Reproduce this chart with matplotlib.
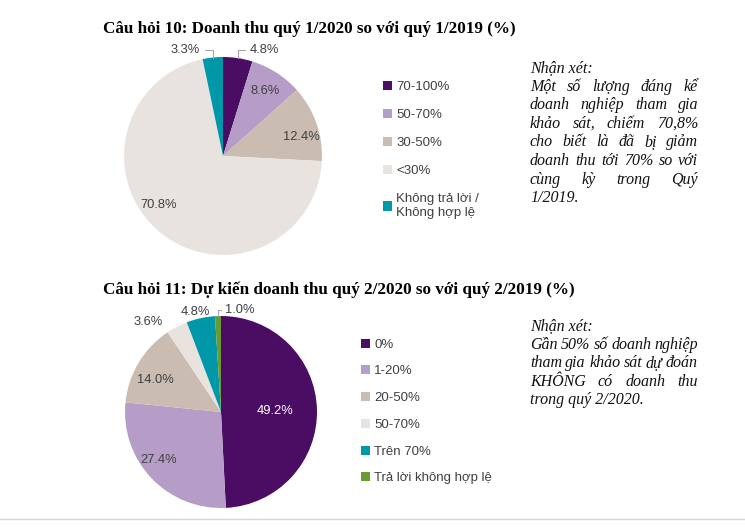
import matplotlib
matplotlib.use("Agg")
from matplotlib import pyplot as plt
from matplotlib.lines import Line2D
import numpy as np

# data
labels1 = ["70-100%", "50-70%", "30-50%", "<30%", "Không trả lời /\nKhông hợp lệ"]
values1 = [4.8, 8.6, 12.4, 70.8, 3.3]
colors1 = ["#4b0c63", "#b69dc7", "#cbbcb2", "#e9e3e0", "#0097a8"]

labels2 = ["0%", "1-20%", "20-50%", "50-70%", "Trên 70%", "Trả lời không hợp lệ"]
values2 = [49.2, 27.4, 14.0, 3.6, 4.8, 1.0]
colors2 = ["#4b0c63", "#b69dc7", "#cbbcb2", "#e9e3e0", "#0097a8", "#6b9a32"]

title1 = "Câu hỏi 10: Doanh thu quý 1/2020 so với quý 1/2019 (%)"
title2 = "Câu hỏi 11: Dự kiến doanh thu quý 2/2020 so với quý 2/2019 (%)"

note1 = ["Nhận xét:",
         "Một số lượng đáng kể",
         "doanh nghiệp tham gia",
         "khảo sát, chiếm 70,8%",
         "cho biết là đã bị giảm",
         "doanh thu tới 70% so với",
         "cùng kỳ trong Quý",
         "1/2019."]
note2 = ["Nhận xét:",
         "Gần 50% số doanh nghiệp",
         "tham gia khảo sát dự đoán",
         "KHÔNG có doanh thu",
         "trong quý 2/2020."]

W, H = 745, 532
TXT = "#404040"
plt.rcParams["font.family"] = ["Liberation Sans", "DejaVu Sans"]
fig = plt.figure(figsize=(W / 100, H / 100), dpi=100)


def fx(px):
    return px / W


def fy(py):
    return 1 - py / H


def pie_axes(cx, cy, r, lim=1.3):
    s = r * lim
    return fig.add_axes([fx(cx - s), fy(cy + s), 2 * s / W, 2 * s / H])


def draw_pie(ax, values, colors, inside, outside):
    wedges, _ = ax.pie(values, colors=colors, startangle=90, counterclock=False,
                       wedgeprops=dict(linewidth=0))
    ax.set_xlim(-1.3, 1.3)
    ax.set_ylim(-1.3, 1.3)
    ax.set_aspect("equal")
    ax.axis("off")
    for i, w in enumerate(wedges):
        mid = (w.theta1 + w.theta2) / 2
        lab = f"{values[i]:.1f}%"
        if i in inside:
            r, dth, col = inside[i]
            a = np.deg2rad(mid + dth)
            ax.text(r * np.cos(a), r * np.sin(a), lab, ha="center", va="center",
                    fontsize=9.3, color=col)
        else:
            tx, ty, leader = outside[i]
            if not leader:
                ax.text(tx, ty, lab, ha="center", va="center", fontsize=9.3, color=TXT)
                continue
            a = np.deg2rad(mid)
            ax.annotate(lab, xy=(np.cos(a), np.sin(a)), xytext=(tx, ty),
                        ha="center", va="center", fontsize=9.3, color=TXT,
                        arrowprops=dict(arrowstyle="-", color="#a6a6a6", lw=0.8,
                                        shrinkA=1.5, shrinkB=0,
                                        connectionstyle="angle,angleA=0,angleB=90,rad=0"))
    return wedges


def justified(lines, x0, x1, y0, dy, size):
    renderer = fig.canvas.get_renderer()
    kw = dict(fontsize=size, fontstyle="italic", family="Liberation Serif",
              color="#111111", va="baseline")
    for k, line in enumerate(lines):
        y = fy(y0 + k * dy)
        words = line.split(" ")
        if k == 0 or k == len(lines) - 1 or len(words) == 1:
            fig.text(fx(x0), y, line, ha="left", **kw)
            continue
        ts = [fig.text(0, y, wd, ha="left", **kw) for wd in words]
        widths = [t.get_window_extent(renderer).width for t in ts]
        gap = ((x1 - x0) - sum(widths)) / (len(words) - 1)
        x = x0
        for t, wdt in zip(ts, widths):
            t.set_x(fx(x))
            x += wdt + gap


# titles
fig.text(fx(103), fy(29), title1, fontsize=12.3, fontweight="bold",
         family="Liberation Serif", va="center", ha="left", color="black")
fig.text(fx(103), fy(290), title2, fontsize=12.3, fontweight="bold",
         family="Liberation Serif", va="center", ha="left", color="black")

# pie 1
ax1 = pie_axes(223, 156, 99)
w1 = draw_pie(ax1, values1, colors1,
              inside={1: (0.78, 0, TXT), 2: (0.81, -6, TXT), 3: (0.82, -12, TXT)},
              outside={0: (0.42, 1.07, True), 4: (-0.38, 1.07, True)})
fig.legend(w1, labels1, loc="upper left", bbox_to_anchor=(fx(383), fy(81)),
           frameon=False, fontsize=9.5, labelcolor=TXT, handlelength=0.7,
           handleheight=0.7, handletextpad=0.3, labelspacing=1.2,
           borderaxespad=0, borderpad=0)

# pie 2
ax2 = pie_axes(221, 412, 96)
w2 = draw_pie(ax2, values2, colors2,
              inside={0: (0.56, 0, "white"), 1: (0.82, -6, TXT), 2: (0.76, 5, TXT)},
              outside={3: (-0.76, 0.94, False), 4: (-0.27, 1.04, False),
                       5: (0.2, 1.06, True)})
fig.legend(w2, labels2, loc="upper left", bbox_to_anchor=(fx(361), fy(338.5)),
           frameon=False, fontsize=9.5, labelcolor=TXT, handlelength=0.7,
           handleheight=0.7, handletextpad=0.3, labelspacing=1.1,
           borderaxespad=0, borderpad=0)

# notes
justified(note1, 530, 698, 72, 18.6, 11.5)
justified(note2, 530, 698, 330, 18.6, 11.5)

# bottom rule
fig.add_artist(Line2D([0, 1], [fy(519), fy(519)], color="#d6d6d6", lw=1))

fig.savefig("out.png", dpi=100)
